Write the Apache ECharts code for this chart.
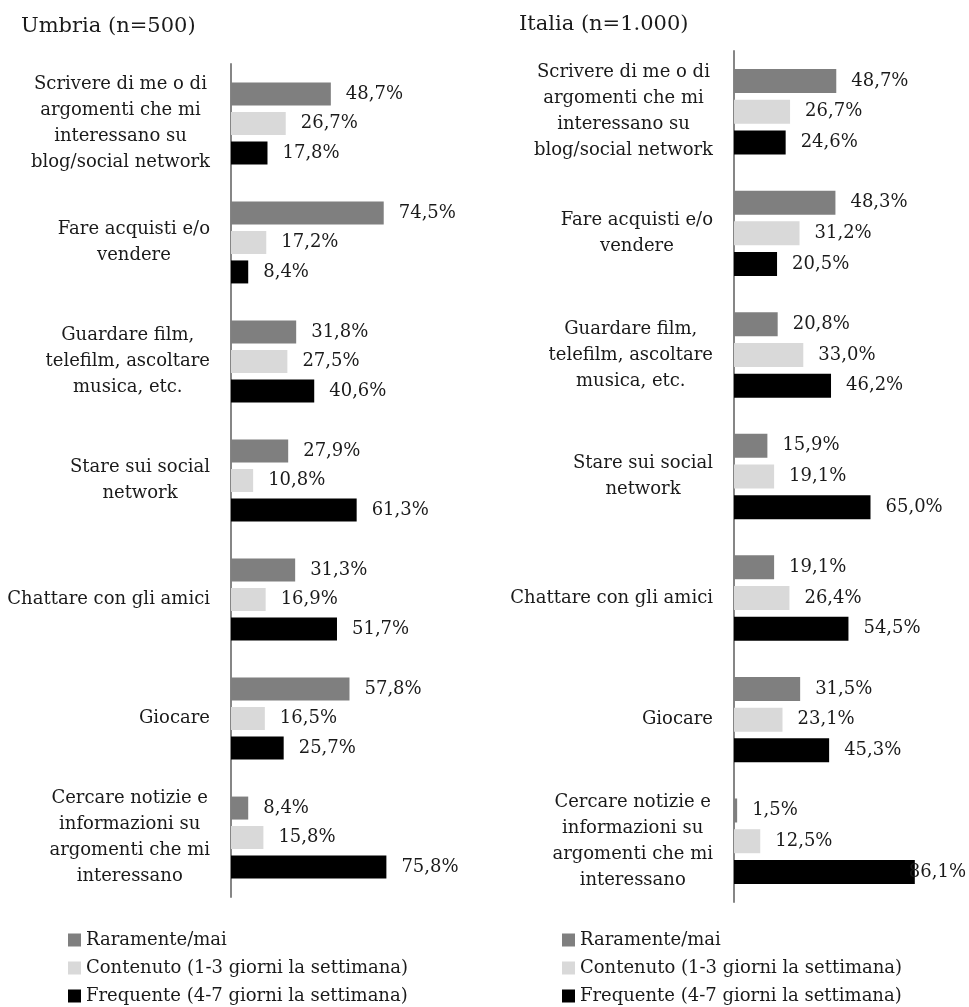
<!DOCTYPE html>
<html>
<head>
<meta charset="utf-8">
<script src="https://cdn.jsdelivr.net/npm/echarts@6/dist/echarts.min.js"></script>
<style>
  html, body { margin: 0; padding: 0; background: #fff; }
  #chart { width: 969px; height: 1007px; }
</style>
</head>
<body>
<div id="chart"></div>
<script>
// categorie (a capo come nell'originale)
const categories = [
    'Scrivere di me o di\nargomenti che mi\ninteressano su\nblog/social network',
    'Fare acquisti e/o\nvendere',
    'Guardare film,\ntelefilm, ascoltare\nmusica, etc.',
    'Stare sui social\nnetwork',
    'Chattare con gli amici',
    'Giocare',
    'Cercare notizie e\ninformazioni su\nargomenti che mi\ninteressano'
];
const seriesNames = ['Raramente/mai', 'Contenuto (1-3 giorni la settimana)', 'Frequente (4-7 giorni la settimana)'];

// Umbria (n=500)
const umbriaRaramente = [48.7, 74.5, 31.8, 27.9, 31.3, 57.8, 8.4];
const umbriaContenuto = [26.7, 17.2, 27.5, 10.8, 16.9, 16.5, 15.8];
const umbriaFrequente = [17.8, 8.4, 40.6, 61.3, 51.7, 25.7, 75.8];

// Italia (n=1.000)
const italiaRaramente = [48.7, 48.3, 20.8, 15.9, 19.1, 31.5, 1.5];
const italiaContenuto = [26.7, 31.2, 33.0, 19.1, 26.4, 23.1, 12.5];
const italiaFrequente = [24.6, 20.5, 46.2, 65.0, 54.5, 45.3, 86.1];

const colors = ['#7f7f7f', '#d9d9d9', '#000000'];
const FONT = '"DejaVu Serif", "Liberation Serif", serif';
const TXT = '#1a1a1a';
const FS = 18;

const chart = echarts.init(document.getElementById('chart'));

function fmt(v) {
    return v.toFixed(1).replace('.', ',') + '%';
}

function catLabel(value) {
    return value.split('\n').map(l => '{c|' + l + '}').join('\n');
}

function makeSeries(name, data, idx, color, barWidth) {
    return {
        name: name,
        type: 'bar',
        xAxisIndex: idx,
        yAxisIndex: idx,
        barWidth: barWidth,
        barGap: '28%',
        itemStyle: { color: color },
        label: {
            show: true,
            position: 'right',
            distance: 15,
            color: TXT,
            fontFamily: FONT,
            fontSize: FS,
            formatter: p => fmt(p.value)
        },
        data: data.map(v => {
            // l'ultima etichetta in Italia si sovrappone alla barra
            if (idx === 1 && v > 80) return { value: v, label: { distance: -6 } };
            return v;
        })
    };
}

const yAxisBase = {
    type: 'category',
    data: categories,
    inverse: true,
    axisLine: { show: true, lineStyle: { color: '#868686', width: 2 } },
    axisTick: { show: false },
    axisLabel: {
        margin: 21,
        color: TXT,
        fontFamily: FONT,
        fontSize: FS,
        lineHeight: 26,
        formatter: catLabel,
        rich: { c: { align: 'center', fontFamily: FONT, fontSize: FS, lineHeight: 26, color: TXT } }
    }
};

const legendBase = {
    data: seriesNames,
    orient: 'vertical',
    top: 931,
    padding: 0,
    itemWidth: 13,
    itemHeight: 13,
    itemGap: 10,
    icon: 'rect',
    textStyle: { fontFamily: FONT, fontSize: FS, color: TXT }
};

const option = {
    animation: false,
    backgroundColor: '#fff',
    color: colors,
    textStyle: { fontFamily: FONT },
    title: [
        { text: 'Umbria (n=500)', left: 16, top: 11, textStyle: { fontFamily: FONT, fontSize: 21, fontWeight: 'normal', color: TXT } },
        { text: 'Italia (n=1.000)', left: 514, top: 9, textStyle: { fontFamily: FONT, fontSize: 21, fontWeight: 'normal', color: TXT } }
    ],
    legend: [
        Object.assign({ left: 68 }, legendBase),
        Object.assign({ left: 562 }, legendBase)
    ],
    grid: [
        { left: 231, top: 64, width: 205, height: 833 },
        { left: 734, top: 51, width: 210, height: 851 }
    ],
    xAxis: [
        { type: 'value', gridIndex: 0, min: 0, max: 100, show: false },
        { type: 'value', gridIndex: 1, min: 0, max: 100, show: false }
    ],
    yAxis: [
        Object.assign({ gridIndex: 0 }, yAxisBase),
        Object.assign({ gridIndex: 1 }, yAxisBase)
    ],
    series: [
        makeSeries(seriesNames[0], umbriaRaramente, 0, colors[0], 23),
        makeSeries(seriesNames[1], umbriaContenuto, 0, colors[1], 23),
        makeSeries(seriesNames[2], umbriaFrequente, 0, colors[2], 23),
        makeSeries(seriesNames[0], italiaRaramente, 1, colors[0], 24),
        makeSeries(seriesNames[1], italiaContenuto, 1, colors[1], 24),
        makeSeries(seriesNames[2], italiaFrequente, 1, colors[2], 24)
    ]
};

chart.setOption(option);
window.addEventListener('resize', () => chart.resize());
</script>
</body>
</html>
